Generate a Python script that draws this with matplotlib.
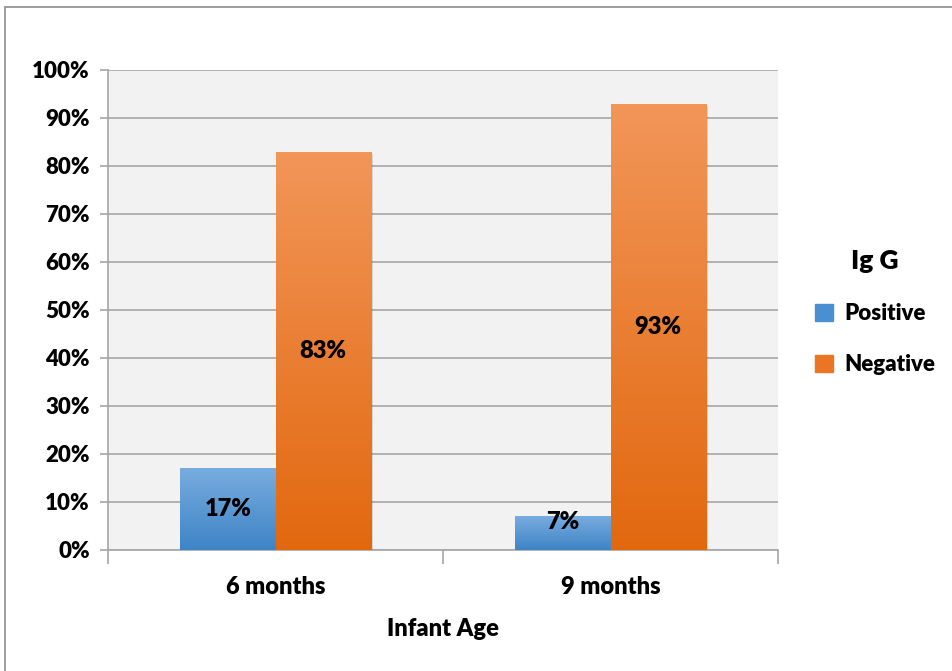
import matplotlib
matplotlib.use('Agg')
import matplotlib.pyplot as plt
import matplotlib.ticker as mtick
from matplotlib.colors import LinearSegmentedColormap
from matplotlib.patches import Rectangle
import numpy as np

categories = ['6 months', '9 months']
positive = [0.17, 0.07]
negative = [0.83, 0.93]
series_names = ['Positive', 'Negative']
legend_title = 'Ig G'
x_title = 'Infant Age'

plt.rcParams['font.family'] = ['Lato', 'DejaVu Sans']
plt.rcParams['font.weight'] = 'bold'

fig = plt.figure(figsize=(9.52, 6.71), dpi=100)
ax = fig.add_axes([108/952, 1-550/671, 670/952, 480/671])
ax.set_facecolor('#f2f2f2')

# 图外框
fig.patches.append(Rectangle((4.5/952, -0.1), 1.2, 1.1 - 6.5/671, transform=fig.transFigure,
                             fill=False, edgecolor='#8c8c8c', linewidth=1.2, zorder=0))

x = np.arange(len(categories))
w = 0.285
grads = [('#78acdf', '#3e84c6'), ('#f29659', '#e2680f')]
solid = ['#4a8fd0', '#ec7524']

for k, vals in enumerate([positive, negative]):
    xs = x - w/2 + k*w
    bars = ax.bar(xs, vals, width=w, color=solid[k], label=series_names[k], zorder=3, linewidth=0)
    cmap = LinearSegmentedColormap.from_list('g%d' % k, [grads[k][1], grads[k][0]])
    for b in bars:
        bx, by = b.get_x(), b.get_y()
        bw, bh = b.get_width(), b.get_height()
        # 阴影
        ax.add_patch(Rectangle((bx + 0.006, by), bw, bh - 0.004, color='#000000', alpha=0.12,
                               zorder=2, linewidth=0))
        im = ax.imshow(np.linspace(0, 1, 256).reshape(-1, 1), cmap=cmap, origin='lower',
                       extent=[bx, bx + bw, by, by + bh], aspect='auto', zorder=3.5)
        im.set_clip_path(b)
    for xi, v in zip(xs, vals):
        ax.text(xi, max(v/2, 0.058), '%d%%' % round(v*100), ha='center', va='center',
                fontsize=17, fontweight='heavy', color='black', zorder=5)

ax.set_xlim(-0.5, 1.5)
ax.set_ylim(0, 1)
ax.yaxis.set_major_locator(mtick.MultipleLocator(0.1))
ax.yaxis.set_major_formatter(mtick.PercentFormatter(1.0, decimals=0))
ax.grid(axis='y', color='#a6a6a6', linewidth=1.2, zorder=1)
ax.set_axisbelow(True)

ax.set_xticks([-0.5, 0.5, 1.5])
ax.set_xticklabels([])
ax.set_xticks(x, minor=True)
ax.set_xticklabels(categories, minor=True, fontsize=17, fontweight='heavy')
ax.tick_params(axis='x', which='minor', length=0, pad=19)
ax.tick_params(axis='x', which='major', length=10, color='#a6a6a6', width=1.2)
ax.tick_params(axis='y', length=6, color='#a6a6a6', width=1.2, labelsize=16, pad=7)
for t in ax.get_yticklabels():
    t.set_fontweight('heavy')

for s in ['top', 'right']:
    ax.spines[s].set_visible(False)
for s in ['left', 'bottom']:
    ax.spines[s].set_color('#a6a6a6')
    ax.spines[s].set_linewidth(1.2)

ax.set_xlabel(x_title, fontsize=17, fontweight='heavy', labelpad=14)

leg = fig.legend(handles=[Rectangle((0, 0), 1, 1, color=c) for c in solid], labels=series_names,
                 loc='center left', bbox_to_anchor=(795/952, 1-312/671), frameon=False,
                 title=legend_title, fontsize=16, handlelength=0.8, handleheight=0.8,
                 handletextpad=0.5, labelspacing=1.35)
leg.get_title().set_fontsize(19)
leg.get_title().set_fontweight('heavy')
leg._legend_box.sep = 22
for t in leg.get_texts():
    t.set_fontweight('heavy')

fig.savefig('out.png', dpi=100)
